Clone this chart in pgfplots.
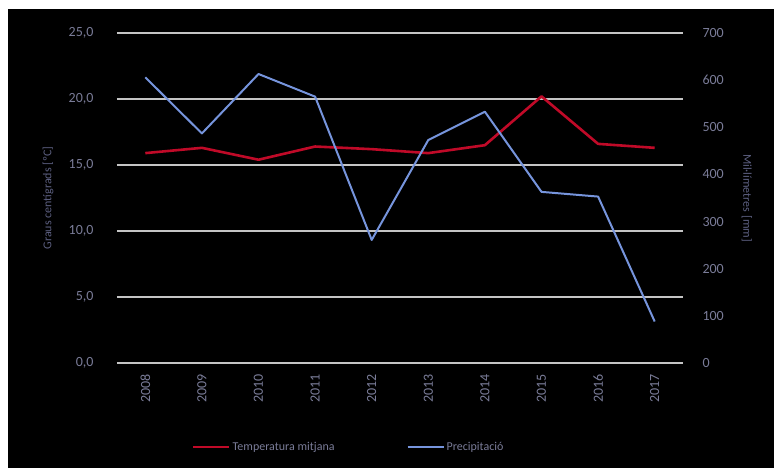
\documentclass[border=0pt]{standalone}
\usepackage{pgfplots}
\pgfplotsset{compat=1.18}
\usepackage{fontspec}
\setmainfont{Carlito}

\definecolor{tickgray}{RGB}{122,124,152}
\definecolor{titlegray}{RGB}{92,95,128}
\definecolor{gridgray}{RGB}{196,196,196}
\definecolor{tempred}{RGB}{192,10,40}
\definecolor{precblue}{RGB}{118,148,220}

\begin{document}
\begin{tikzpicture}[x=1pt,y=1pt]
  % page frame
  \path[use as bounding box] (0,0) rectangle (774,468);
  \fill[white] (0,0) rectangle (774,468);
  \fill[black] (8,0) rectangle (774,459);

  \pgfplotsset{
    common/.style={
      scale only axis,
      width=566pt, height=330pt,
      at={(117pt,105pt)}, anchor=south west,
      xmin=-0.5, xmax=9.5,
      xtick={0,...,9},
      axis line style={draw=none},
      major tick style={draw=none},
      axis background/.style={fill=none},
      font=\fontsize{12}{14}\selectfont,
      tick label style={text=tickgray, font=\fontsize{14}{16}\selectfont},
      /pgf/number format/assume math mode=true,
      clip=false,
    },
  }

  % left axis: mean temperature
  \begin{axis}[common,
      ymin=0, ymax=25,
      ytick={0,5,...,25},
      ymajorgrids,
      grid style={gridgray, line width=1.8pt},
      yticklabel style={xshift=-20pt,
        /pgf/number format/.cd, fixed, fixed zerofill, precision=1, use comma},
      xticklabels={2008,2009,2010,2011,2012,2013,2014,2015,2016,2017},
      xticklabel style={rotate=90, anchor=east, xshift=-8pt},
      ylabel={Graus centígrads [ºC]},
      ylabel style={text=titlegray, at={(axis description cs:-0.1219,0.5)}, anchor=center, font=\fontsize{12}{14}\selectfont},
    ]
    \addplot[tempred, line width=2.6pt, line join=round] coordinates {
      (0,15.9) (1,16.3) (2,15.4) (3,16.4) (4,16.2)
      (5,15.9) (6,16.5) (7,20.2) (8,16.6) (9,16.3)
    };
  \end{axis}

  % right axis: precipitation
  \begin{axis}[common,
      ymin=0, ymax=700,
      ytick={0,100,...,700},
      axis y line*=right,
      axis x line=none,
      yticklabel style={xshift=16pt},
      ylabel={Mil·límetres [mm]},
      ylabel style={text=titlegray, rotate=180, at={(axis description cs:1.113,0.5)}, anchor=center, font=\fontsize{12}{14}\selectfont},
      legend columns=2,
      legend style={draw=none, fill=none, text=tickgray,
        at={(0.127,-0.2545)}, anchor=west,
        font=\fontsize{12}{14}\selectfont,
        /tikz/every even column/.append style={column sep=70pt}},
      legend image code/.code={\draw[#1] (0pt,0pt) -- (36pt,0pt);},
    ]
    \addlegendimage{tempred, line width=2.6pt}
    \addlegendentry{Temperatura mitjana}
    \addplot[precblue, line width=2pt, line join=round] coordinates {
      (0,606) (1,487) (2,613) (3,565) (4,261)
      (5,473) (6,533) (7,363) (8,353) (9,88)
    };
    \addlegendentry{Precipitació}
  \end{axis}
\end{tikzpicture}
\end{document}
